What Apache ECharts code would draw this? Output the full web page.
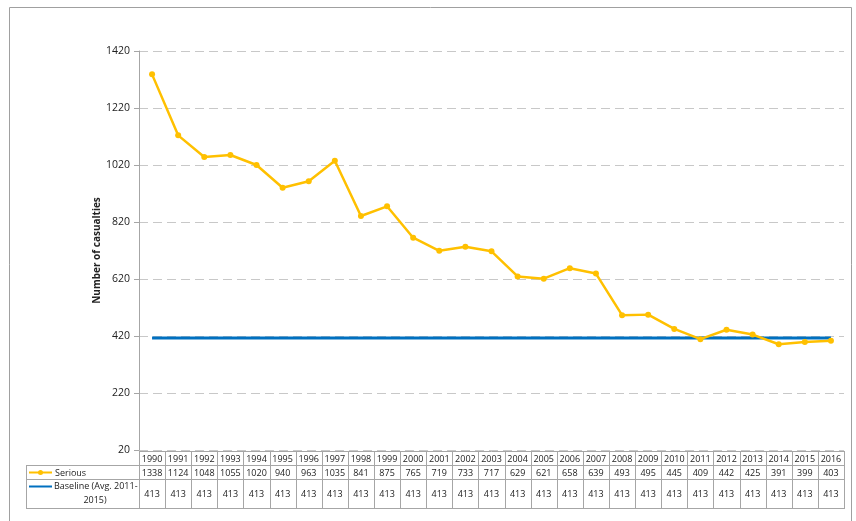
<!DOCTYPE html>
<html>
<head>
<meta charset="utf-8">
<script src="https://cdn.jsdelivr.net/npm/echarts@6/dist/echarts.min.js"></script>
<style>
  html, body { margin: 0; padding: 0; background: #fff; }
  #main { width: 856px; height: 521px; }
</style>
</head>
<body>
<div id="main"></div>
<script>
var years = ['1990','1991','1992','1993','1994','1995','1996','1997','1998','1999','2000','2001','2002','2003','2004','2005','2006','2007','2008','2009','2010','2011','2012','2013','2014','2015','2016'];
var serious = [1338,1124,1048,1055,1020,940,963,1035,841,875,765,719,733,717,629,621,658,639,493,495,445,409,442,425,391,399,403];
var baseline = [413,413,413,413,413,413,413,413,413,413,413,413,413,413,413,413,413,413,413,413,413,413,413,413,413,413,413];
var yTicks = [20,220,420,620,820,1020,1220,1420];

var fontFam = '"Open Sans", "Liberation Sans", sans-serif';
var textCol = '#222';
var lineGray = '#a6a6a6';

var myChart = echarts.init(document.getElementById('main'));
var option = {
    animation: false,
    backgroundColor: '#fff',
    grid: { left: 139, right: 12, top: 51, bottom: 71 },
    xAxis: {
        type: 'category',
        data: years,
        boundaryGap: true,
        axisLine: { show: false },
        axisTick: { show: false },
        axisLabel: { show: false }
    },
    yAxis: {
        type: 'value',
        min: 20,
        max: 1420,
        name: 'Number of casualties',
        nameLocation: 'middle',
        nameGap: 37,
        nameMoveOverlap: false,
        nameTextStyle: { fontFamily: fontFam, fontSize: 10, fontWeight: 'bold', color: textCol },
        axisLine: { show: true, lineStyle: { color: lineGray, width: 1 } },
        axisTick: { show: true, length: 5, customValues: yTicks, lineStyle: { color: lineGray } },
        axisLabel: {
            customValues: yTicks,
            formatter: function (v) { return String(v); },
            fontFamily: fontFam, fontSize: 10.5, color: textCol, margin: 9
        },
        splitLine: { show: true, lineStyle: { color: '#c8c8c8', type: [9, 5], width: 1 } }
    },
    series: [
        {
            name: 'Serious',
            type: 'line',
            data: serious,
            symbol: 'circle',
            symbolSize: 6,
            lineStyle: { color: '#FFC000', width: 2.5 },
            itemStyle: { color: '#FFC000' },
            z: 3
        },
        {
            name: 'Baseline (Avg. 2011-2015)',
            type: 'line',
            data: baseline,
            symbol: 'none',
            lineStyle: { color: '#0070C0', width: 3 },
            z: 2
        }
    ]
};
myChart.setOption(option);

// data table under the plot
var gfx = [];
var x0 = myChart.convertToPixel({ xAxisIndex: 0 }, 0);
var x1 = myChart.convertToPixel({ xAxisIndex: 0 }, 1);
var colW = x1 - x0;
var tabLeft = x0 - colW / 2;
var tabRight = tabLeft + colW * years.length;
var legLeft = 26;
var rowY = [451, 465, 479, 508];

gfx.push({ type: 'rect', shape: { x: 9.5, y: 7.5, width: 842, height: 530 },
    style: { fill: null, stroke: '#a0a0a0', lineWidth: 1 }, silent: true });

function hline(xa, xb, y) {
    gfx.push({ type: 'line', shape: { x1: xa, y1: y + 0.5, x2: xb, y2: y + 0.5 },
        style: { stroke: lineGray, lineWidth: 1 }, silent: true });
}
function vline(x, ya, yb) {
    gfx.push({ type: 'line', shape: { x1: Math.round(x) + 0.5, y1: ya, x2: Math.round(x) + 0.5, y2: yb },
        style: { stroke: lineGray, lineWidth: 1 }, silent: true });
}
hline(tabLeft, tabRight, rowY[0]);
hline(legLeft, tabRight, rowY[1]);
hline(legLeft, tabRight, rowY[2]);
hline(legLeft, tabRight, rowY[3]);
vline(legLeft, rowY[1], rowY[3] + 1);
for (var i = 0; i <= years.length; i++) {
    vline(tabLeft + colW * i, rowY[0], rowY[3] + 1);
}
function cellText(txt, x, y) {
    gfx.push({ type: 'text', x: x, y: y, silent: true,
        style: { text: txt, fontFamily: fontFam, fontSize: 9, fill: textCol, align: 'center', verticalAlign: 'middle' } });
}
for (var j = 0; j < years.length; j++) {
    var cx = tabLeft + colW * (j + 0.5);
    cellText(years[j], cx, (rowY[0] + rowY[1]) / 2 + 1);
    cellText(String(serious[j]), cx, (rowY[1] + rowY[2]) / 2 + 1);
    cellText(String(baseline[j]), cx, (rowY[2] + rowY[3]) / 2 + 1);
}
// dashed gridlines poke out left of the axis like the ticks
for (var k = 1; k < yTicks.length; k++) {
    var ty = Math.round(myChart.convertToPixel({ yAxisIndex: 0 }, yTicks[k])) + 0.5;
    gfx.push({ type: 'line', shape: { x1: 134, y1: ty, x2: 139, y2: ty }, style: { stroke: lineGray, lineWidth: 1 }, silent: true });
}
// legend keys in the table
var ySer = (rowY[1] + rowY[2]) / 2 + 0.5;
gfx.push({ type: 'line', shape: { x1: 29, y1: ySer, x2: 52, y2: ySer }, style: { stroke: '#FFC000', lineWidth: 2 }, silent: true });
gfx.push({ type: 'circle', shape: { cx: 40.5, cy: ySer, r: 2.5 }, style: { fill: '#FFC000' }, silent: true });
gfx.push({ type: 'text', x: 55, y: ySer + 0.5, silent: true,
    style: { text: 'Serious', fontFamily: fontFam, fontSize: 9, fill: textCol, verticalAlign: 'middle' } });
var yBas = 486.5;
gfx.push({ type: 'line', shape: { x1: 29, y1: yBas, x2: 52, y2: yBas }, style: { stroke: '#0070C0', lineWidth: 2 }, silent: true });
gfx.push({ type: 'text', x: 54, y: yBas, silent: true,
    style: { text: 'Baseline (Avg. 2011-', fontFamily: fontFam, fontSize: 9, fill: textCol, verticalAlign: 'middle' } });
gfx.push({ type: 'text', x: 95, y: 500, silent: true,
    style: { text: '2015)', fontFamily: fontFam, fontSize: 9, fill: textCol, align: 'center', verticalAlign: 'middle' } });

myChart.setOption({ graphic: gfx });
</script>
</body>
</html>
